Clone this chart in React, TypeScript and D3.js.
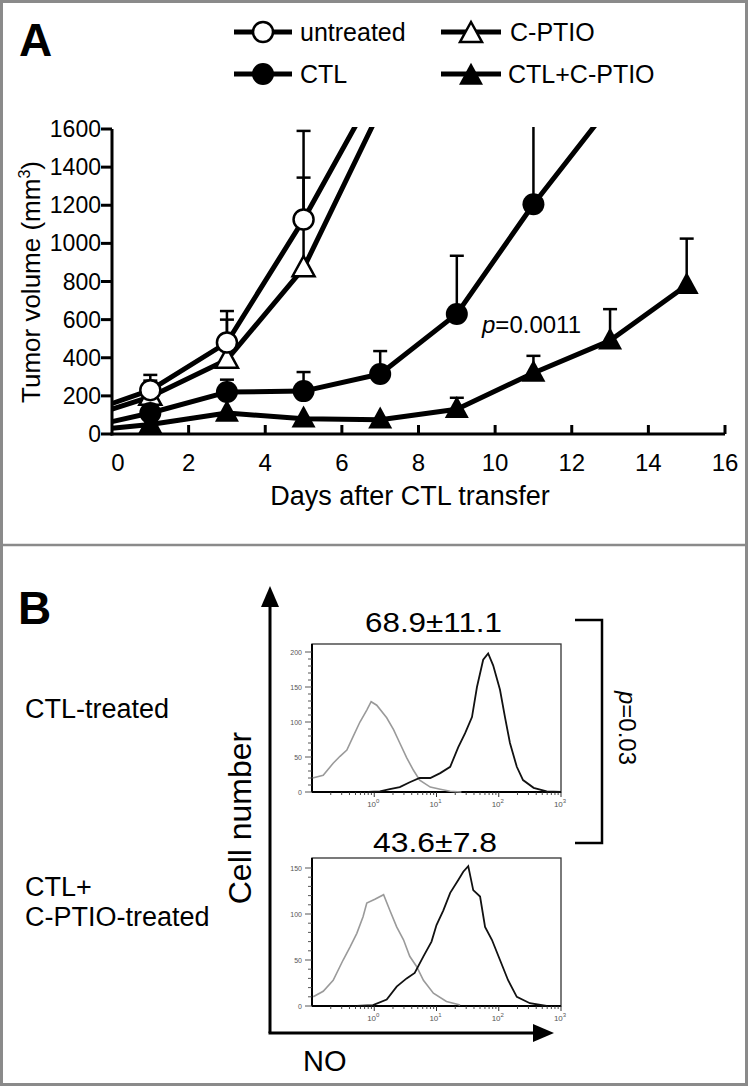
import React from "react";
import * as d3 from "d3";

// ---------- Panel A data ----------
const UNT_DAYS = [0, 1, 3, 5, 7];
const UNT_VAL = [160, 230, 480, 1125, 1850];
const UNT_ERR = [null, 310, 645, 1590, null];

const CPT_DAYS = [0, 1, 3, 5, 7];
const CPT_VAL = [130, 195, 390, 870, 1700];
const CPT_ERR = [null, 280, 600, 1345, null];

const CTL_DAYS = [0, 1, 3, 5, 7, 9, 11, 13];
const CTL_VAL = [65, 110, 220, 225, 315, 630, 1205, 1720];
const CTL_ERR = [null, 150, 285, 325, 435, 935, 1700, null];

const CC_DAYS = [0, 1, 3, 5, 7, 9, 11, 13, 15];
const CC_VAL = [30, 50, 110, 80, 75, 130, 320, 490, 780];
const CC_ERR = [null, null, null, null, null, 190, 410, 655, 1025];

const X_TICKS = [0, 2, 4, 6, 8, 10, 12, 14, 16];
const Y_TICKS = [0, 200, 400, 600, 800, 1000, 1200, 1400, 1600];

// ---------- Panel B data (log10 of NO fluorescence, cell count) ----------
const TOP_GRAY_U = [-0.99, -0.82, -0.66, -0.55, -0.44, -0.34, -0.23, -0.12, -0.05, 0.04, 0.2, 0.31, 0.41, 0.52, 0.63, 0.73, 0.9, 1.06, 1.22, 1.4];
const TOP_GRAY_C = [20, 24, 41, 51, 60, 79, 100, 117, 129, 124, 106, 89, 70, 49, 31, 17, 7, 4, 1, 0];
const TOP_BLACK_U = [-0.1, 0.09, 0.25, 0.41, 0.57, 0.73, 0.9, 1.06, 1.22, 1.35, 1.46, 1.57, 1.65, 1.75, 1.83, 1.91, 2.02, 2.1, 2.18, 2.29, 2.39, 2.56, 2.77, 3.0];
const TOP_BLACK_C = [0, 1, 4, 7, 14, 20, 20, 27, 36, 64, 84, 107, 150, 189, 198, 181, 146, 107, 70, 36, 17, 6, 1, 0];

const BOT_GRAY_U = [-0.98, -0.82, -0.66, -0.5, -0.39, -0.28, -0.18, -0.12, 0.01, 0.15, 0.25, 0.36, 0.47, 0.57, 0.68, 0.79, 0.95, 1.16, 1.38];
const BOT_GRAY_C = [10, 16, 28, 50, 64, 79, 97, 112, 116, 121, 104, 86, 72, 54, 43, 28, 14, 5, 1];
const BOT_BLACK_U = [-0.28, -0.02, 0.2, 0.36, 0.52, 0.65, 0.79, 0.92, 1.0, 1.11, 1.22, 1.35, 1.43, 1.51, 1.59, 1.7, 1.78, 1.89, 2.02, 2.15, 2.29, 2.5, 2.77];
const BOT_BLACK_C = [0, 1, 7, 21, 30, 36, 54, 70, 88, 104, 123, 137, 146, 152, 126, 119, 86, 72, 50, 28, 10, 3, 0];

const TOP_YTICKS = [0, 50, 100, 150, 200];
const BOT_YTICKS = [0, 50, 100, 150];
const LOG_TICKS = [0, 1, 2, 3];

const FONT = "Liberation Sans, Arial, Helvetica, sans-serif";

function triPath(cx: number, cy: number, w = 22, h = 20) {
  return `M${cx},${cy - h * 0.6} L${cx + w / 2},${cy + h * 0.4} L${cx - w / 2},${cy + h * 0.4} Z`;
}

export default function App() {
  const W = 748, H = 1086;
  const x = d3.scaleLinear().domain([0, 16]).range([112, 725]);
  const y = d3.scaleLinear().domain([0, 1600]).range([434, 129]);
  const line = d3.line<[number, number]>().x(d => x(d[0])).y(d => y(d[1]));

  const series = [
    { key: "cpt", days: CPT_DAYS, val: CPT_VAL, err: CPT_ERR, marker: "otri" },
    { key: "unt", days: UNT_DAYS, val: UNT_VAL, err: UNT_ERR, marker: "ocirc" },
    { key: "ctl", days: CTL_DAYS, val: CTL_VAL, err: CTL_ERR, marker: "fcirc" },
    { key: "cc", days: CC_DAYS, val: CC_VAL, err: CC_ERR, marker: "ftri" },
  ];

  const marker = (type: string, cx: number, cy: number, k: string) => {
    if (type === "ocirc") return <circle key={k} cx={cx} cy={cy} r={10} fill="#fff" stroke="#000" strokeWidth={2.5} />;
    if (type === "fcirc") return <circle key={k} cx={cx} cy={cy} r={11} fill="#000" />;
    if (type === "otri") return <path key={k} d={triPath(cx, cy)} fill="#fff" stroke="#000" strokeWidth={2.5} />;
    return <path key={k} d={triPath(cx, cy, 24, 22)} fill="#000" />;
  };

  // Panel B scales
  const xl = d3.scaleLog().domain([0.1, 1000]).range([312, 561]);
  const yTop = d3.scaleLinear().domain([0, 200]).range([792, 652]);
  const yBot = d3.scaleLinear().domain([0, 150]).range([1006, 868]);
  const hLine = (ys: d3.ScaleLinear<number, number>) =>
    d3.line<[number, number]>().x(d => xl(Math.pow(10, d[0]))).y(d => ys(d[1]));
  const zip = (a: number[], b: number[]) => a.map((v, i) => [v, b[i]] as [number, number]);

  const histogram = (top: number, ys: d3.ScaleLinear<number, number>, ticks: number[], maxV: number, gU: number[], gC: number[], bU: number[], bC: number[], id: string) => {
    const bottom = ys(0);
    const minor = d3.range(0, maxV + 1, 10);
    const logMinor: number[] = [];
    for (let e = -1; e < 3; e++) for (let m = 2; m <= 9; m++) logMinor.push(m * Math.pow(10, e));
    return (
      <g key={id}>
        <rect x={312} y={top} width={249} height={bottom - top} fill="#fff" stroke="#333" strokeWidth={1.3} />
        <line x1={312} x2={312} y1={top} y2={bottom} stroke="#000" strokeWidth={2} />
        <line x1={312} x2={561} y1={bottom} y2={bottom} stroke="#000" strokeWidth={2} />
        {minor.map(v => (
          <line key={"m" + v} x1={312} x2={ticks.includes(v) ? 305 : 308} y1={ys(v)} y2={ys(v)} stroke="#444" strokeWidth={0.9} />
        ))}
        {ticks.map(v => (
          <text key={"t" + v} x={302} y={ys(v) + 2.5} fontSize={7} fill="#555" textAnchor="end" fontFamily={FONT}>{v}</text>
        ))}
        {logMinor.map((v, i) => (
          <line key={"lm" + i} x1={xl(v)} x2={xl(v)} y1={bottom} y2={bottom + 3} stroke="#333" strokeWidth={0.9} />
        ))}
        {LOG_TICKS.map(e => (
          <g key={"lx" + e}>
            <line x1={xl(Math.pow(10, e))} x2={xl(Math.pow(10, e))} y1={bottom} y2={bottom + 5} stroke="#333" strokeWidth={1} />
            <text x={xl(Math.pow(10, e)) - 1} y={bottom + 15} fontSize={8} fill="#555" textAnchor="middle" fontFamily={FONT}>
              10<tspan dy={-4} fontSize={6}>{e}</tspan>
            </text>
          </g>
        ))}
        <path d={hLine(ys)(zip(gU, gC)) || ""} fill="none" stroke="#9a9a9a" strokeWidth={1.6} />
        <path d={hLine(ys)(zip(bU, bC)) || ""} fill="none" stroke="#111" strokeWidth={1.8} />
      </g>
    );
  };

  return (
    <svg width={W} height={H} style={{ position: "absolute", left: 0, top: 0, background: "#fff" }} fontFamily={FONT}>
      <defs>
        <clipPath id="plotA">
          <rect x={100} y={127} width={640} height={330} />
        </clipPath>
      </defs>
      <rect x={1.5} y={1.5} width={W - 3} height={H - 3} fill="#fff" stroke="#8a8a8a" strokeWidth={3} />
      <line x1={0} x2={W} y1={545} y2={545} stroke="#8a8a8a" strokeWidth={2.5} />

      {/* Panel A */}
      <text x={19} y={56} fontSize={46} fontWeight="bold">A</text>

      {/* legend */}
      <g>
        <line x1={234} x2={292} y1={32} y2={32} stroke="#000" strokeWidth={5} />
        {marker("ocirc", 263, 32, "l1")}
        <text x={300} y={41} fontSize={25}>untreated</text>
        <line x1={234} x2={292} y1={74} y2={74} stroke="#000" strokeWidth={5} />
        {marker("fcirc", 263, 74, "l2")}
        <text x={300} y={83} fontSize={25}>CTL</text>
        <line x1={441} x2={501} y1={32} y2={32} stroke="#000" strokeWidth={5} />
        {marker("otri", 471, 34, "l3")}
        <text x={510} y={41} fontSize={25}>C-PTIO</text>
        <line x1={441} x2={501} y1={74} y2={74} stroke="#000" strokeWidth={5} />
        {marker("ftri", 471, 76, "l4")}
        <text x={508} y={83} fontSize={25}>CTL+C-PTIO</text>
      </g>

      {/* axes */}
      <line x1={112} x2={112} y1={129} y2={435.5} stroke="#000" strokeWidth={3} />
      <line x1={110.5} x2={725} y1={434} y2={434} stroke="#000" strokeWidth={3} />
      {Y_TICKS.map(v => (
        <g key={"yt" + v}>
          <line x1={101} x2={112} y1={y(v)} y2={y(v)} stroke="#000" strokeWidth={3} />
          <text x={101} y={y(v) + 8} fontSize={23} textAnchor="end">{v}</text>
        </g>
      ))}
      {X_TICKS.map(v => (
        <g key={"xt" + v}>
          {v > 0 && <line x1={x(v)} x2={x(v)} y1={434} y2={425} stroke="#000" strokeWidth={3} />}
          <text x={x(v) + (v === 0 ? 6 : 0)} y={471} fontSize={24} textAnchor="middle">{v}</text>
        </g>
      ))}
      <text x={410} y={505} fontSize={27} textAnchor="middle">Days after CTL transfer</text>
      <text transform="translate(40,282) rotate(-90)" fontSize={26} textAnchor="middle">
        Tumor volume (mm<tspan dy={-10} fontSize={16}>3</tspan><tspan dy={10}>)</tspan>
      </text>
      <text x={482} y={333} fontSize={24}><tspan fontStyle="italic">p</tspan>=0.0011</text>

      <g clipPath="url(#plotA)">
        {series.map(s => (
          <g key={"e" + s.key}>
            {s.days.map((d, i) => {
              const e = s.err[i];
              if (e == null) return null;
              return (
                <g key={i}>
                  <line x1={x(d)} x2={x(d)} y1={y(s.val[i])} y2={y(e)} stroke="#000" strokeWidth={2.5} />
                  <line x1={x(d) - 7} x2={x(d) + 7} y1={y(e)} y2={y(e)} stroke="#000" strokeWidth={2.5} />
                </g>
              );
            })}
          </g>
        ))}
        {series.map(s => (
          <g key={"s" + s.key}>
            <path d={line(zip(s.days, s.val)) || ""} fill="none" stroke="#000" strokeWidth={5} strokeLinejoin="round" />
            {s.days.map((d, i) => (d > 0 ? marker(s.marker, x(d), y(s.val[i]), s.key + i) : null))}
          </g>
        ))}
      </g>

      {/* Panel B */}
      <text x={18} y={624} fontSize={46} fontWeight="bold">B</text>
      <text x={25} y={718} fontSize={27}>CTL-treated</text>
      <text x={25} y={896} fontSize={27}>CTL+</text>
      <text x={25} y={926} fontSize={27}>C-PTIO-treated</text>

      <text x={365} y={632} fontSize={28} textLength={137} lengthAdjust="spacingAndGlyphs">68.9±11.1</text>
      <text x={373} y={852} fontSize={28} textLength={124} lengthAdjust="spacingAndGlyphs">43.6±7.8</text>

      {histogram(644, yTop, TOP_YTICKS, 200, TOP_GRAY_U, TOP_GRAY_C, TOP_BLACK_U, TOP_BLACK_C, "top")}
      {histogram(858, yBot, BOT_YTICKS, 150, BOT_GRAY_U, BOT_GRAY_C, BOT_BLACK_U, BOT_BLACK_C, "bot")}

      {/* big axes */}
      <line x1={270} x2={270} y1={606} y2={1033} stroke="#000" strokeWidth={3} />
      <line x1={268.5} x2={535} y1={1033} y2={1033} stroke="#000" strokeWidth={3} />
      <path d="M270,586 L279,607 L261,607 Z" fill="#000" />
      <path d="M554,1033 L533,1024 L533,1042 Z" fill="#000" />
      <text transform="translate(251,818) rotate(-90)" fontSize={32} textAnchor="middle">Cell number</text>
      <text x={303} y={1071} fontSize={29}>NO</text>

      {/* bracket */}
      <path d="M575,620 H602 V843 H575" fill="none" stroke="#000" strokeWidth={2.5} />
      <text transform="translate(619,728) rotate(90)" fontSize={24} textAnchor="middle"><tspan fontStyle="italic">p</tspan>=0.03</text>
    </svg>
  );
}
